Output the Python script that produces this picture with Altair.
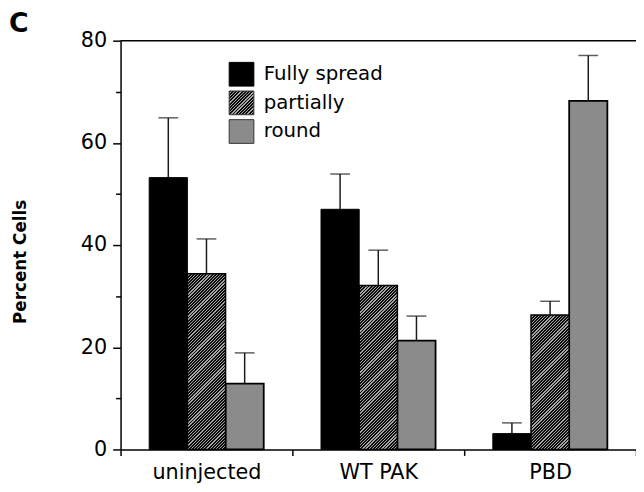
import altair as alt
import pandas as pd

groups = ["uninjected", "WT PAK", "PBD"]
series = ["Fully spread", "partially", "round"]
fully = [53.2, 47.0, 3.1]
fully_err = [11.7, 6.9, 2.1]
partial = [34.4, 32.1, 26.3]
partial_err = [6.8, 6.9, 2.7]
round_ = [12.9, 21.3, 68.2]
round_err = [6.0, 4.8, 8.9]
y_ticks = [0, 10, 20, 30, 40, 50, 60, 70, 80]

W, H = 522, 414
YMAX = 80
BAR_W = W / 3 / 4.5

rows = []
for s, vals, errs in [(series[0], fully, fully_err), (series[1], partial, partial_err), (series[2], round_, round_err)]:
    for g, v, e in zip(groups, vals, errs):
        rows.append({"group": g, "series": s, "value": v, "upper": v + e})
df = pd.DataFrame(rows)


def hatch(w, h, hp=3.2, frac=0.6, dark="#0d0d0d", light="#a4a4a4"):
    n = max(1, round((w + h) / hp))
    s = (1 / h + 1 / w) / (1 / h ** 2 + 1 / w ** 2)
    x2, y2 = s / h, s / w
    stops = []
    for k in range(n):
        a, b, c = k / n, (k + frac) / n, (k + 1) / n
        stops += [
            {"offset": round(a, 5), "color": dark},
            {"offset": round(b, 5), "color": dark},
            {"offset": round(b, 5), "color": light},
            {"offset": round(c, 5), "color": light},
        ]
    return alt.LinearGradient(gradient="linear", stops=stops, x1=0, y1=0, x2=round(x2, 6), y2=round(y2, 6))


x_enc = alt.X(
    "group:N",
    sort=groups,
    scale=alt.Scale(domain=groups, paddingInner=0, paddingOuter=0),
    axis=alt.Axis(
        title=None, labelAngle=0, tickBand="extent", tickSize=6, tickWidth=1.5,
        tickColor="black", domainColor="black", domainWidth=1.5,
        labelFont="DejaVu Sans", labelFontSize=21, labelColor="black", labelPadding=6,
    ),
)
xo_enc = alt.XOffset("series:N", sort=series, scale=alt.Scale(domain=series, paddingInner=0, paddingOuter=0.75))
y_enc = alt.Y(
    "value:Q",
    scale=alt.Scale(domain=[0, YMAX], nice=False, zero=True),
    axis=alt.Axis(
        title=None, values=y_ticks, grid=False,
        labelExpr="datum.value % 20 === 0 ? datum.label : ''",
        tickSize={"condition": {"test": "datum.value % 20 === 0", "value": 8}, "value": 5},
        tickWidth=1.5, tickColor="black", domainColor="black", domainWidth=1.5,
        labelFont="DejaVu Sans", labelFontSize=21, labelColor="black", labelPadding=6,
    ),
)

base = alt.Chart(df).encode(x=x_enc, xOffset=xo_enc, y=y_enc)

layers = []
layers.append(base.transform_filter(alt.datum.series == series[0]).mark_bar(fill="black", stroke="black", strokeWidth=1))
layers.append(base.transform_filter(alt.datum.series == series[2]).mark_bar(fill="#8b8b8b", stroke="black", strokeWidth=1.8))
for g, v in zip(groups, partial):
    h = v / YMAX * H
    layers.append(
        base.transform_filter((alt.datum.series == series[1]) & (alt.datum.group == g))
        .mark_bar(fill=hatch(BAR_W, h), stroke="black", strokeWidth=1.5)
    )

layers.append(base.mark_rule(color="#1a1a1a", strokeWidth=1.5).encode(y2="upper:Q"))
layers.append(base.mark_tick(color="#1a1a1a", thickness=1.5, size=20).encode(y="upper:Q"))

# top border
layers.append(
    alt.Chart(pd.DataFrame({"a": [0]})).mark_rule(color="black", strokeWidth=1.5)
    .encode(x=alt.value(0), x2=alt.value(W), y=alt.value(0))
)

# legend
leg_fill = ["black", hatch(25, 24), "#8b8b8b"]
for i, (name, f) in enumerate(zip(series, leg_fill)):
    y0 = 22 + 29 * i
    layers.append(
        alt.Chart(pd.DataFrame({"label": [name]})).mark_rect(fill=f, stroke="#333" if i else "black", strokeWidth=1)
        .encode(x=alt.value(110), x2=alt.value(135), y=alt.value(y0), y2=alt.value(y0 + 24))
    )
    layers.append(
        alt.Chart(pd.DataFrame({"label": [name]})).mark_text(
            align="left", baseline="middle", font="DejaVu Sans", fontSize=20, color="black"
        ).encode(text="label:N", x=alt.value(145), y=alt.value(y0 + 12))
    )

# y title
layers.append(
    alt.Chart(pd.DataFrame({"label": ["Percent Cells"]})).mark_text(
        angle=270, align="center", baseline="alphabetic", font="DejaVu Sans", fontWeight="bold",
        fontSize=17, color="black"
    ).encode(text="label:N", x=alt.value(-96), y=alt.value(224))
)
# panel letter
layers.append(
    alt.Chart(pd.DataFrame({"label": ["C"]})).mark_text(
        align="left", baseline="alphabetic", font="DejaVu Sans", fontWeight="bold",
        fontSize=27, color="black"
    ).encode(text="label:N", x=alt.value(-113), y=alt.value(-9))
)

chart = alt.layer(*layers).properties(
    width=W, height=H,
    padding={"left": 114, "top": 30, "right": 0, "bottom": 40},
    autosize=alt.AutoSizeParams(type="none"),
    background="white",
).configure_view(stroke=None)

chart.save("out.html", embed_options={"renderer": "svg", "actions": False})
